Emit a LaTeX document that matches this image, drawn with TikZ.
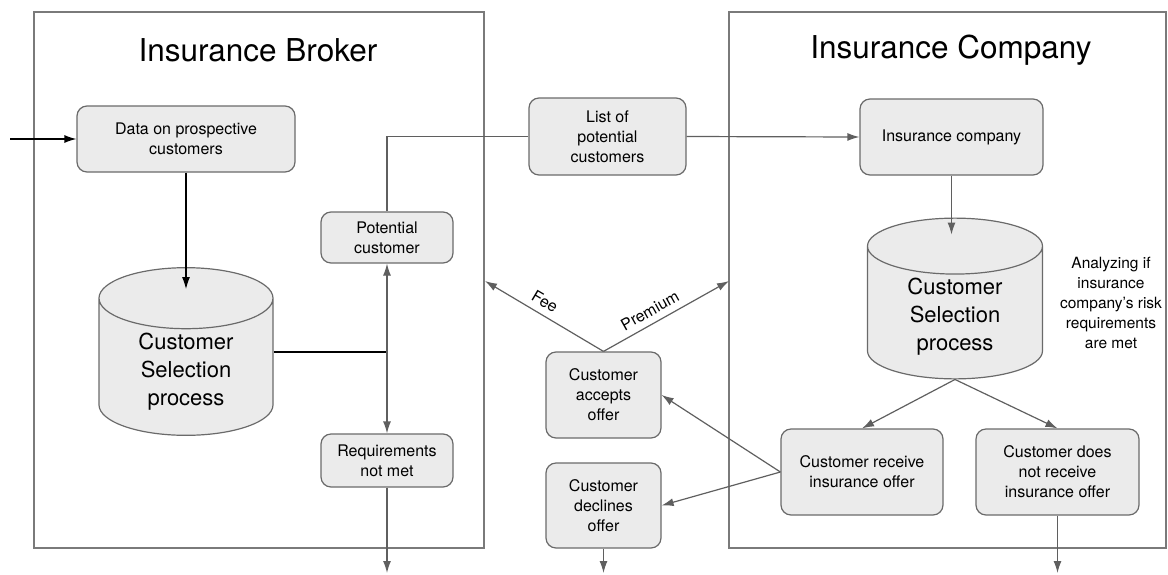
\documentclass[tikz,border=0pt]{standalone}
\usepackage{fontspec}
\setmainfont{TeX Gyre Heros}
\usetikzlibrary{shapes.geometric, arrows.meta, positioning, calc}
\definecolor{boxfill}{HTML}{EBEBEB}
\definecolor{boxedge}{HTML}{6A6A6A}
\definecolor{lanegray}{HTML}{7A7A7A}
\definecolor{wiregray}{HTML}{5F5F5F}
\newcommand{\boxfont}{\fontsize{16}{20}\selectfont}

\begin{document}
\begin{tikzpicture}[x=1pt, y=-1pt,
  lane/.style={draw=lanegray, line width=1.2pt},
  title/.style={font=\fontsize{31.5}{38}\selectfont},
  box/.style={rectangle, rounded corners=10pt, draw=boxedge, fill=boxfill, line width=1.2pt, align=center, font=\boxfont, inner sep=2pt},
  store/.style={cylinder, shape border rotate=90, draw=boxedge, fill=boxfill, line width=1.2pt, aspect=0.6, align=center, font=\fontsize{22}{28}\selectfont},
  note/.style={align=center, font=\fontsize{15.5}{20}\selectfont},
  arrow/.style={-{Latex[length=12pt,width=8pt]}, draw=wiregray, line width=1.2pt},
  inarrow/.style={arrow, draw=black},
  wire/.style={draw=wiregray, line width=1.2pt},
  tag/.style={font=\boxfont, sloped, above=3pt}
]
\useasboundingbox (0,0) rectangle (1168,574);
% swimlanes
\draw[lane] (34,12) rectangle (484,548);
\draw[lane] (729,12) rectangle (1166,548);
\node[title] (broker) at (258,50) {Insurance Broker};
\node[title] (company) at (951,50) {Insurance Company};

% broker side
\node[box, minimum width=218pt, minimum height=66pt] (data) at (186,139) {Data on prospective\\customers};
\node[store, minimum width=174pt, minimum height=163pt, anchor=shape center] (lsel) at (186,351.5) {Customer\\Selection\\process};
\node[box, minimum width=132pt, minimum height=51pt] (pot) at (387,237.5) {Potential\\customer};
\node[box, minimum width=132pt, minimum height=53pt] (req) at (387,460.5) {Requirements\\not met};
\coordinate (jn) at (387,352);
\coordinate (src) at (10,139);
\coordinate (reqout) at (387,573);

% between the lanes
\node[box, minimum width=157pt, minimum height=77pt] (list) at (607.5,136.5) {List of\\potential\\customers};
\node[box, minimum width=115pt, minimum height=86pt] (acc) at (603.5,395) {Customer\\accepts\\offer};
\node[box, minimum width=115pt, minimum height=85pt] (dec) at (603.5,505.5) {Customer\\declines\\offer};
\coordinate (fee) at (485,281);
\coordinate (prem) at (729,281);
\coordinate (decout) at (603.5,573);

% company side
\node[box, minimum width=183pt, minimum height=76pt] (inscomp) at (951.5,137) {Insurance company};
\node[store, minimum width=175pt, minimum height=157pt, aspect=0.55, anchor=shape center] (rsel) at (955,298.5) {Customer\\Selection\\process};
\coordinate (rseltop) at ($(rsel.north)+(0,17)$);
\node[note] (analyze) at (1111,303) {Analyzing if\\insurance\\company's risk\\requirements\\are met};
\node[box, minimum width=162pt, minimum height=86pt] (recv) at (862,472) {Customer receive\\insurance offer};
\node[box, minimum width=163pt, minimum height=86pt] (norecv) at (1057.5,472) {Customer does\\not receive\\insurance offer};
\coordinate (norecvout) at (1057.5,573);

% connectors
\draw[inarrow] (src) -- (data.west);
\draw[inarrow] (data.south) -- ($(lsel.north)+(0,22)$);
\draw[line width=1.2pt] (jn -| lsel.east) -- (jn);
\draw[arrow] (jn) -- (pot.south);
\draw[arrow] (jn) -- (req.north);
\draw[arrow] (req.south) -- (reqout);
\draw[wire] (pot.north) |- (list.west);
\draw[arrow] (list.east) -- (inscomp.west);
\draw[arrow] (inscomp.south) -- (inscomp.south |- rseltop);
\draw[arrow] (rsel.south) -- (recv.north);
\draw[arrow] (rsel.south) -- (norecv.north);
\draw[arrow] (norecv.south) -- (norecvout);
\draw[arrow] (recv.west) -- (acc.east);
\draw[arrow] (recv.west) -- (dec.east);
\draw[arrow] (dec.south) -- (decout);
\draw[arrow] (acc.north) -- (fee) node[tag, pos=0.55] {Fee};
\draw[arrow] (acc.north) -- (prem) node[tag, pos=0.42] {Premium};
\end{tikzpicture}
\end{document}
